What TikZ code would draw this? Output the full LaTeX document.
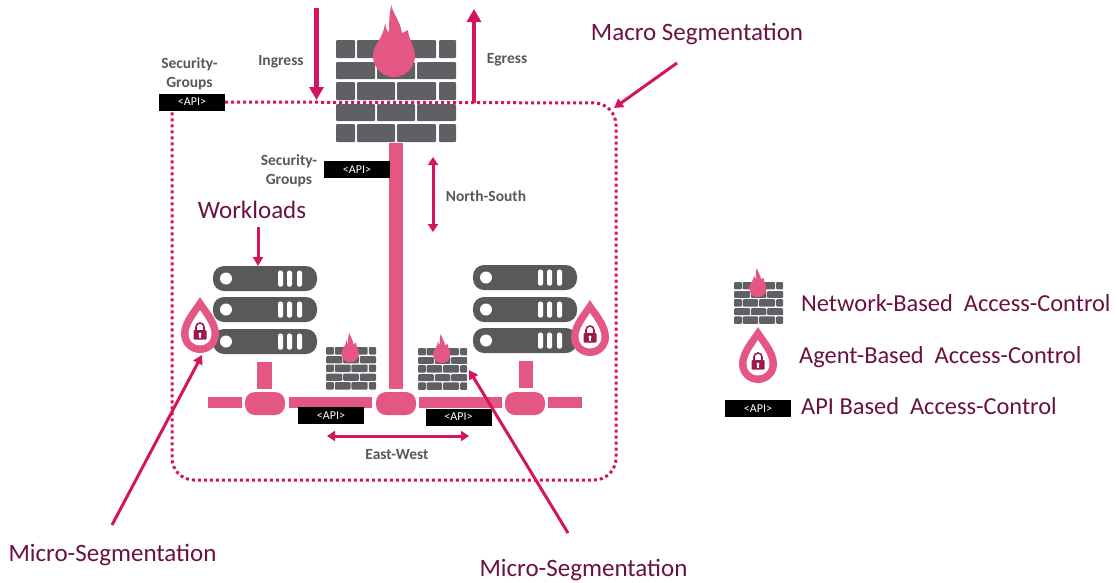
\documentclass[tikz,border=0pt]{standalone}
\usepackage{fontspec}
\setmainfont{Carlito}
\usetikzlibrary{arrows.meta}
\begin{document}
\begin{tikzpicture}[x=1pt,y=-1pt]
    \definecolor{wallgray}{HTML}{5F6064}
    \definecolor{rackgray}{HTML}{58595B}
    \definecolor{netpink}{HTML}{E55783}
    \definecolor{linkred}{HTML}{D4145F}
    \definecolor{lockred}{HTML}{9B1B4E}
    \definecolor{titlered}{HTML}{6A1240}
    \definecolor{notegray}{HTML}{55585E}

    \tikzstyle{brick}=[fill=wallgray,rounded corners=1pt]
    \tikzstyle{rack}=[fill=rackgray]
    \tikzstyle{bus}=[fill=netpink]
    \tikzstyle{api}=[fill=black,text=white,font=\fontsize{12}{12}\selectfont,minimum width=66pt,minimum height=17pt,inner sep=0pt]
    \tikzstyle{note}=[text=notegray,font=\fontsize{15.5}{19}\selectfont\bfseries,align=center,inner sep=0pt]
    \tikzstyle{title}=[text=titlered,font=\fontsize{25}{25}\selectfont,inner sep=0pt]
    \tikzstyle{legend}=[text=titlered,font=\fontsize{24.4}{25}\selectfont,inner sep=0pt,anchor=west]
    \tikzstyle{fat}=[draw=linkred,line width=4.5pt,-{Triangle[length=13pt,width=14pt]}]
    \tikzstyle{both}=[draw=linkred,line width=3pt,{Triangle[length=8pt,width=10pt]}-{Triangle[length=8pt,width=10pt]}]
    \tikzstyle{fwd}=[draw=linkred,line width=3pt,-{Triangle[length=9pt,width=10pt]}]
    \tikzstyle{border}=[draw=linkred,line width=3pt,dash pattern=on 3pt off 3pt,rounded corners=22pt]

    % wall of bricks with a flame, origin at its top left corner
    \def\firewall{
        \foreach \ya/\yb in {0/18,42/60,84/102}
            \foreach \xa/\xb in {0/19,21/59,61/100,103/120}
                \path[brick] (\xa,\ya) rectangle (\xb,\yb);
        \foreach \ya/\yb in {22/39,64/81}
            \foreach \xa/\xb in {0/39,41/79,81/120}
                \path[brick] (\xa,\ya) rectangle (\xb,\yb);
        \fill[netpink] (58,16) circle (21);
        \fill[netpink] (38,10) .. controls (41,2) and (48,-5) .. (49,-17)
            .. controls (50,-12) and (51,-9) .. (52.5,-7)
            .. controls (54,-15) and (52,-25) .. (55.7,-35)
            .. controls (56,-27) and (64,-20) .. (66,-7)
            .. controls (68,-8) and (70,-9) .. (72,-10)
            .. controls (72,-4) and (76,3) .. (78,10) -- cycle;
    }
    % three rack units
    \def\rackunit{
        \path[rack,rounded corners=11pt] (0,0) rectangle (104,25);
        \fill[white] (13,12.5) circle (6);
        \foreach \xa in {65,74,84}
            \path[fill=white,rounded corners=1.5pt] (\xa,4.5) rectangle +(5,16);
    }
    % drop with a lock, origin at the centre of its round part
    \def\lockdrop{
        \fill[netpink] (0,-37) .. controls (6,-27) and (19,-14) .. (19,0)
            .. controls (19,11) and (10,19) .. (0,19)
            .. controls (-10,19) and (-19,11) .. (-19,0)
            .. controls (-19,-14) and (-6,-27) .. (0,-37) -- cycle;
        \fill[white] (0,-24) .. controls (3,-19) and (11.5,-9) .. (11.5,0)
            .. controls (11.5,7) and (6,11.5) .. (0,11.5)
            .. controls (-6,11.5) and (-11.5,7) .. (-11.5,0)
            .. controls (-11.5,-9) and (-3,-19) .. (0,-24) -- cycle;
        \draw[lockred,line width=1.6pt] (-4,-4) -- (-4,-7) arc (180:360:4) -- (4,-4);
        \path[fill=lockred,rounded corners=1pt] (-6.5,-4) rectangle (6.5,5.5);
        \fill[white] (0,0) circle (1.6);
        \fill[white] (-0.8,0) rectangle (0.8,3.5);
    }

    \useasboundingbox (0,0) rectangle (1117,582);

    % racks
    \begin{scope}[shift={(213,266)}] \rackunit \end{scope}
    \begin{scope}[shift={(213,297)}] \rackunit \end{scope}
    \begin{scope}[shift={(213,329)}] \rackunit \end{scope}
    \begin{scope}[shift={(473,265)}] \rackunit \end{scope}
    \begin{scope}[shift={(473,297)}] \rackunit \end{scope}
    \begin{scope}[shift={(473,328)}] \rackunit \end{scope}

    % network
    \path[bus] (389,143) rectangle (403,389);
    \path[bus] (257,362) rectangle (272,389);
    \path[bus] (519,361) rectangle (533,388);
    \path[bus] (208,397) rectangle (242,408);
    \path[bus] (289,397) rectangle (372,408);
    \path[bus] (419,397) rectangle (502,408);
    \path[bus] (548,397) rectangle (582,408);
    \path[bus,rounded corners=10pt] (245,392) rectangle (285,415);
    \path[bus,rounded corners=10pt] (376,392) rectangle (416,415);
    \path[bus,rounded corners=10pt] (505,392) rectangle (545,415);

    % walls
    \begin{scope}[shift={(336,40)}] \firewall \end{scope}
    \begin{scope}[shift={(326,347)},scale=0.417] \firewall \end{scope}
    \begin{scope}[shift={(418,348)},scale=0.41] \firewall \end{scope}
    \begin{scope}[shift={(734,282)},scale=0.41] \firewall \end{scope}

    % drops
    \begin{scope}[shift={(200,334)}] \lockdrop \end{scope}
    \begin{scope}[shift={(590,337)}] \lockdrop \end{scope}
    \begin{scope}[shift={(758,364)}] \lockdrop \end{scope}

    \node[api] (apisg)  at (192,102) {<API>};
    \node[api] (apimid) at (357,169.5) {<API>};
    \node[api] (apiwl)  at (331,415.5) {<API>};
    \node[api] (apier)  at (458.5,417) {<API>};
    \node[api] (apikey) at (758,408.5) {<API>};

    \node[note] (sgtop) at (189.5,74) {Security-\\Groups};
    \node[note] (sgmid) at (289,171) {Security-\\Groups};
    \node[note] (ing) at (281,62) {Ingress};
    \node[note] (egr) at (507,60) {Egress};
    \node[note] (ns) at (486,196) {North-South};
    \node[note] (ew) at (397,455) {East-West};

    \node[title] (macro) at (697,34) {Macro Segmentation};
    \node[title] (wl) at (252,209.5) {Workloads};
    \node[title] (microa) at (112.5,555) {Micro-Segmentation};
    \node[title] (microb) at (583.5,570) {Micro-Segmentation};
    \node[legend] (keynet) at (801,303) {Network-Based\ \ Access-Control};
    \node[legend] (keyagt) at (799,357) {Agent-Based\ \ Access-Control};
    \node[legend] (keyapi) at (801,406) {API Based\ \ Access-Control};

    % perimeter
    \coordinate (bne) at (616,103);
    \coordinate (bse) at (616,480);
    \coordinate (bsw) at (172,480);
    \coordinate (bnw) at (172,110.5);
    \draw[border] (apisg.east) -- (bne) -- (bse) -- (bsw) -- (bnw);

    \coordinate (inga) at (316.5,8);
    \coordinate (ingb) at (316.5,100);
    \coordinate (egra) at (474,103);
    \coordinate (egrb) at (474,9);
    \coordinate (nsa) at (433,157);
    \coordinate (nsb) at (433,232);
    \coordinate (ewa) at (327,436);
    \coordinate (ewb) at (469,436);
    \coordinate (wla) at (258,227);
    \coordinate (wlb) at (258,266);
    \coordinate (maca) at (677,63);
    \coordinate (macb) at (614,108);
    \coordinate (mia) at (112,525);
    \coordinate (mib) at (202,355);
    \coordinate (mja) at (568,533);
    \coordinate (mjb) at (469,370);

    \draw[fat] (inga) -- (ingb);
    \draw[fat] (egra) -- (egrb);
    \draw[both] (nsa) -- (nsb);
    \draw[both] (ewa) -- (ewb);
    \draw[fwd] (wla) -- (wlb);
    \draw[fwd] (maca) -- (macb);
    \draw[fwd] (mia) -- (mib);
    \draw[fwd] (mja) -- (mjb);
\end{tikzpicture}
\end{document}
